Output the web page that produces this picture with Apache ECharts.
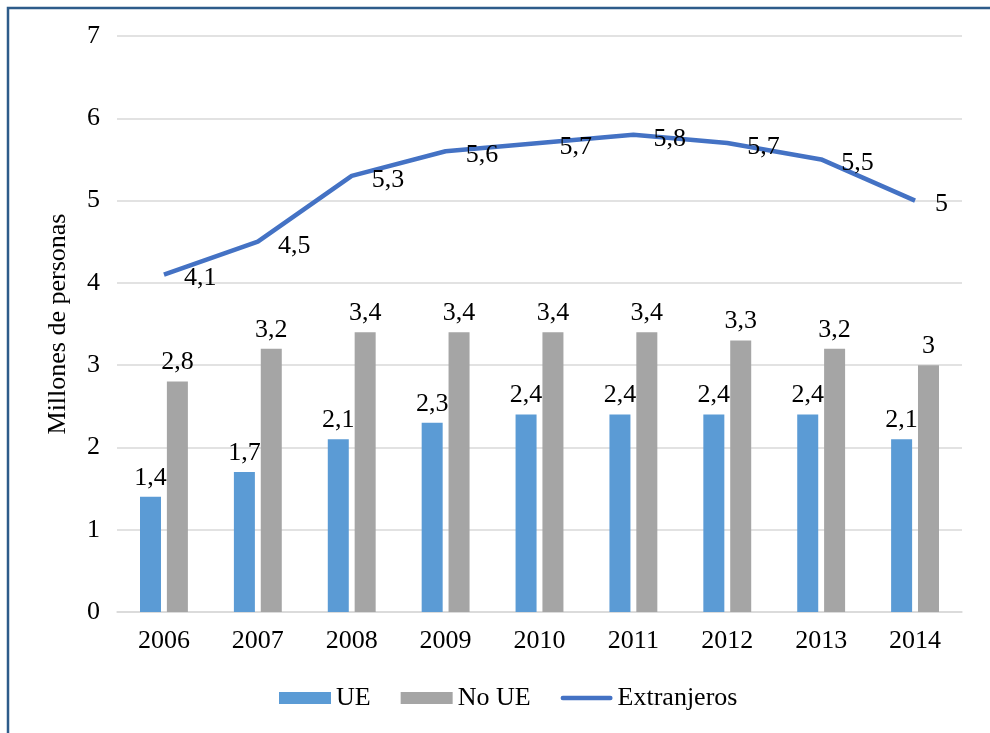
<!DOCTYPE html>
<html>
<head>
<meta charset="utf-8">
<script src="https://cdn.jsdelivr.net/npm/echarts@6/dist/echarts.min.js"></script>
<style>
  html, body { margin: 0; padding: 0; background: #fff; }
  #chart { width: 990px; height: 733px; }
</style>
</head>
<body>
<div id="chart"></div>
<script>
// Población extranjera (millones de personas), 2006-2014
const years = ['2006', '2007', '2008', '2009', '2010', '2011', '2012', '2013', '2014'];
const ue = [1.4, 1.7, 2.1, 2.3, 2.4, 2.4, 2.4, 2.4, 2.1];
const noUe = [2.8, 3.2, 3.4, 3.4, 3.4, 3.4, 3.3, 3.2, 3.0];
const extranjeros = [4.1, 4.5, 5.3, 5.6, 5.7, 5.8, 5.7, 5.5, 5.0];

const font = '"Liberation Serif", "Times New Roman", serif';
const fs = 26;
const comma = p => String(p.value).replace('.', ',');

const chart = echarts.init(document.getElementById('chart'));
chart.setOption({
  animation: false,
  textStyle: { fontFamily: font },
  graphic: [{
    type: 'rect',
    shape: { x: 8, y: 8, width: 1100, height: 900 },
    style: { fill: 'none', stroke: '#2E5C8A', lineWidth: 2.5 },
    z: 100
  }],
  grid: { left: 117, right: 28, top: 36, bottom: 121 },
  legend: {
    bottom: 17,
    left: 274,
    itemWidth: 52,
    itemHeight: 12,
    itemGap: 30,
    textStyle: { fontFamily: font, fontSize: fs, color: '#000' },
    data: [
      { name: 'UE', icon: 'rect' },
      { name: 'No UE', icon: 'rect' },
      { name: 'Extranjeros', icon: 'path://M2.5,0 L55.5,0 A2.5,2.5 0 0 1 55.5,5 L2.5,5 A2.5,2.5 0 0 1 2.5,0 Z' }
    ]
  },
  xAxis: {
    type: 'category',
    data: years,
    axisLine: { lineStyle: { color: '#d9d9d9', width: 1.5 } },
    axisTick: { show: false },
    axisLabel: { color: '#000', fontSize: fs, fontFamily: font, margin: 16 }
  },
  yAxis: {
    type: 'value',
    min: 0, max: 7, interval: 1,
    name: 'Millones de personas',
    nameLocation: 'middle',
    nameGap: 46,
    nameTextStyle: { color: '#000', fontSize: fs, fontFamily: font },
    axisLine: { show: false },
    axisTick: { show: false },
    splitLine: { lineStyle: { color: '#d9d9d9', width: 1.5 } },
    axisLabel: { color: '#000', fontSize: fs, fontFamily: font, margin: 17 }
  },
  series: [
    {
      name: 'UE', type: 'bar', data: ue,
      barWidth: 21, barGap: '28%',
      itemStyle: { color: '#5B9BD5' },
      label: { show: true, position: 'top', distance: 6, formatter: comma, color: '#000', fontSize: fs, fontFamily: font }
    },
    {
      name: 'No UE', type: 'bar', data: noUe,
      barWidth: 21,
      itemStyle: { color: '#A5A5A5' },
      label: { show: true, position: 'top', distance: 6, formatter: comma, color: '#000', fontSize: fs, fontFamily: font }
    },
    {
      name: 'Extranjeros', type: 'line', data: extranjeros,
      symbol: 'circle', symbolSize: 0.1, showSymbol: true,
      lineStyle: { color: '#4472C4', width: 4.5 },
      itemStyle: { color: '#4472C4' },
      label: { show: true, position: 'right', distance: 20, offset: [0, 4], formatter: comma, color: '#000', fontSize: fs, fontFamily: font },
      z: 5
    }
  ]
});
</script>
</body>
</html>
